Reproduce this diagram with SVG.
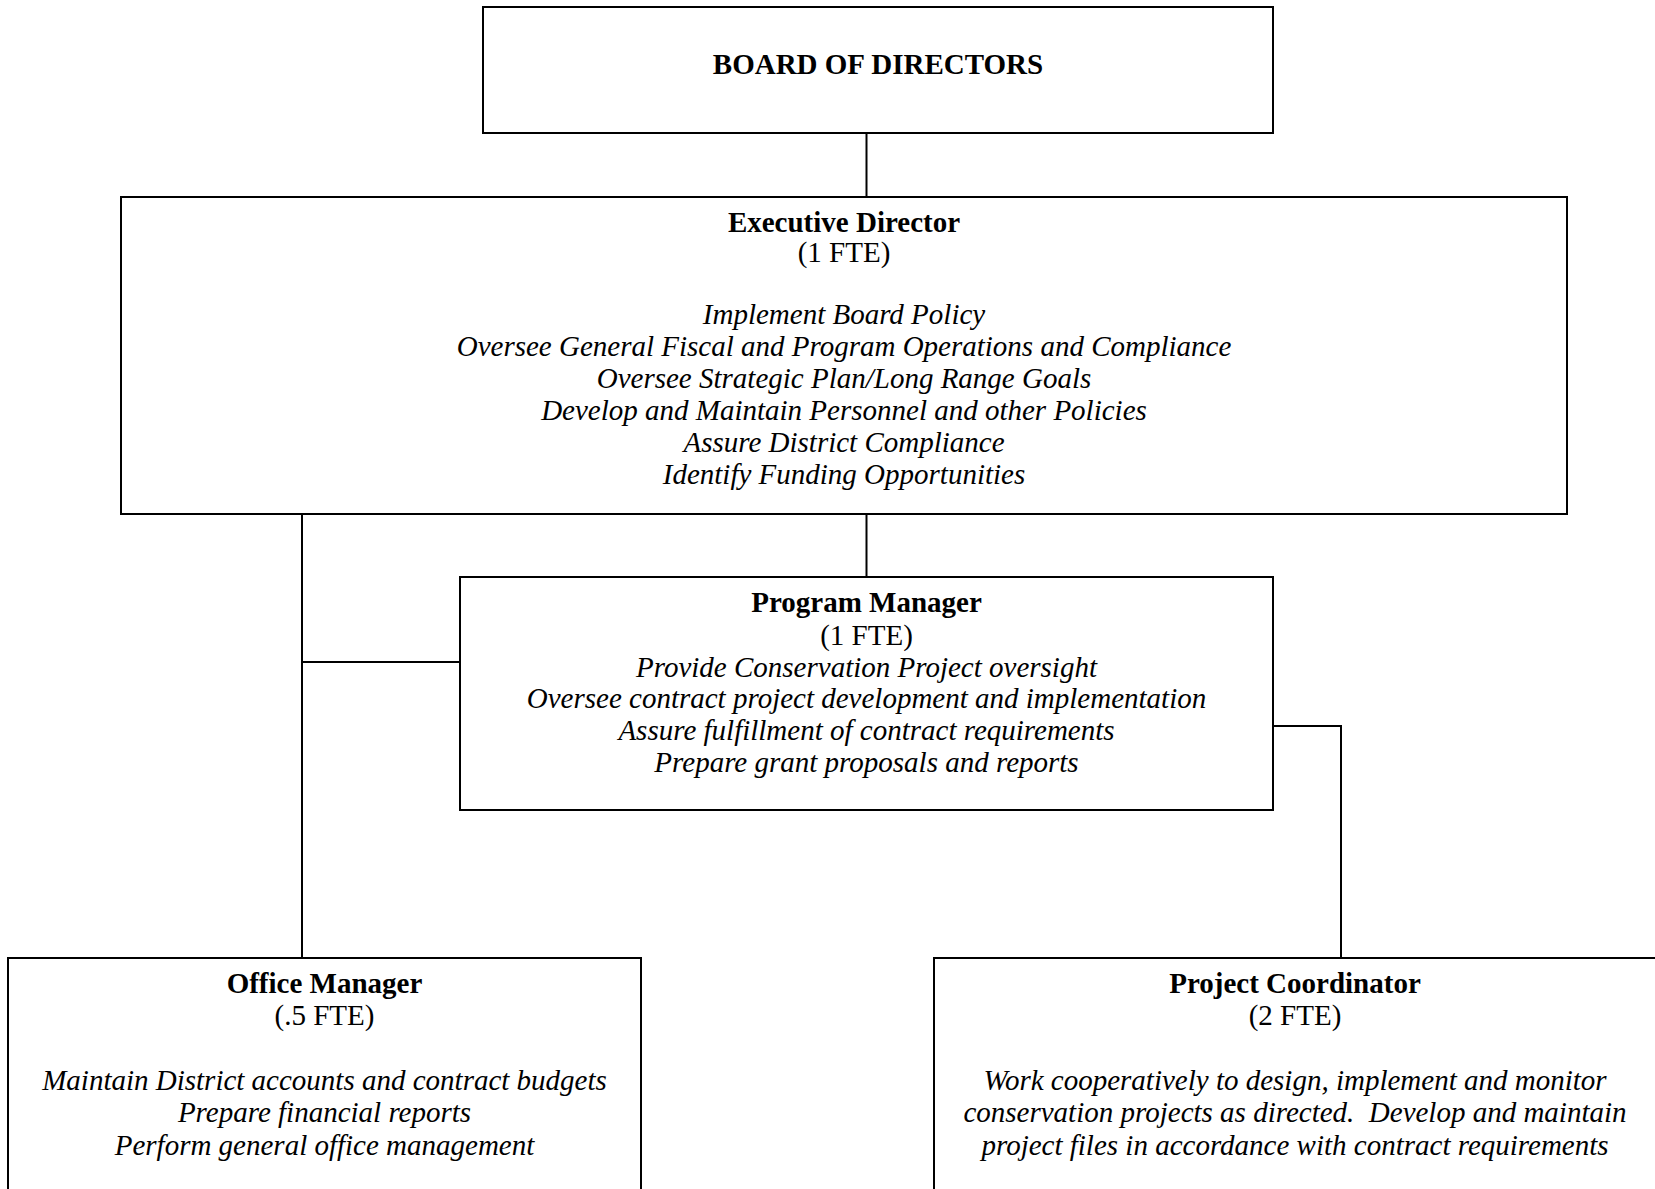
<svg xmlns="http://www.w3.org/2000/svg" width="1655" height="1189" viewBox="0 0 1655 1189">
<style>
.box{fill:#fff;stroke:#000;stroke-width:2}
.con{fill:none;stroke:#000;stroke-width:2}
text{font-family:"Liberation Serif","Times New Roman",serif;font-size:29px;fill:#000;text-anchor:middle}
.b{font-weight:bold}
.i{font-style:italic}
</style>
<rect width="1655" height="1189" fill="#fff"/>
<g id="connectors">
<path class="con" d="M866.5 133V197"/>
<path class="con" d="M866.5 514V577"/>
<path class="con" d="M302 514V958"/>
<path class="con" d="M302 662H460"/>
<path class="con" d="M1273 726H1341V958"/>
</g>
<g id="board">
<rect class="box" x="483" y="7" width="790" height="126"/>
<text class="b" x="878" y="74">BOARD OF DIRECTORS</text>
</g>
<g id="executive-director">
<rect class="box" x="121" y="197" width="1446" height="317"/>
<text class="b" x="844" y="232">Executive Director</text>
<text x="844" y="262">(1 FTE)</text>
<text class="i" x="844" y="324">Implement Board Policy</text>
<text class="i" x="844" y="356">Oversee General Fiscal and Program Operations and Compliance</text>
<text class="i" x="844" y="388">Oversee Strategic Plan/Long Range Goals</text>
<text class="i" x="844" y="420">Develop and Maintain Personnel and other Policies</text>
<text class="i" x="844" y="452">Assure District Compliance</text>
<text class="i" x="844" y="484">Identify Funding Opportunities</text>
</g>
<g id="program-manager">
<rect class="box" x="460" y="577" width="813" height="233"/>
<text class="b" x="866.5" y="612">Program Manager</text>
<text x="866.5" y="645">(1 FTE)</text>
<text class="i" x="866.5" y="677">Provide Conservation Project oversight</text>
<text class="i" x="866.5" y="708">Oversee contract project development and implementation</text>
<text class="i" x="866.5" y="740">Assure fulfillment of contract requirements</text>
<text class="i" x="866.5" y="772">Prepare grant proposals and reports</text>
</g>
<g id="office-manager">
<rect class="box" x="8" y="958" width="633" height="260"/>
<text class="b" x="324.5" y="993">Office Manager</text>
<text x="324.5" y="1025">(.5 FTE)</text>
<text class="i" x="324.5" y="1090">Maintain District accounts and contract budgets</text>
<text class="i" x="324.5" y="1122">Prepare financial reports</text>
<text class="i" x="324.5" y="1155">Perform general office management</text>
</g>
<g id="project-coordinator">
<rect class="box" x="934" y="958" width="730" height="260"/>
<text class="b" x="1295" y="993">Project Coordinator</text>
<text x="1295" y="1025">(2 FTE)</text>
<text class="i" x="1295" y="1090">Work cooperatively to design, implement and monitor</text>
<text class="i" x="1295" y="1122" xml:space="preserve">conservation projects as directed.  Develop and maintain</text>
<text class="i" x="1295" y="1155">project files in accordance with contract requirements</text>
</g>
</svg>
